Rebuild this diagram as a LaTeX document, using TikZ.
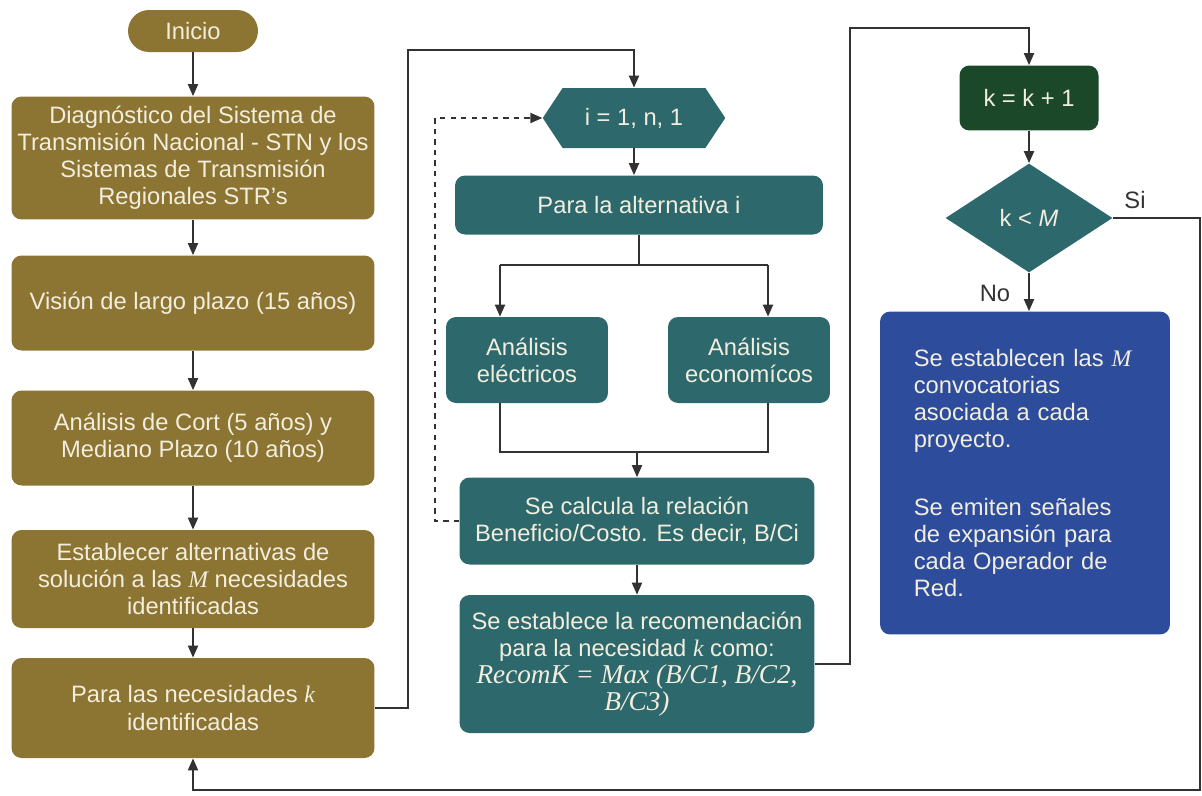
\documentclass[tikz,border=0pt]{standalone}
\usepackage{fontspec}
\setmainfont{Liberation Sans}
\newfontfamily\tmsfont{Liberation Serif}
\usepackage{tikz}
\usetikzlibrary{arrows.meta,positioning,shapes.geometric,shapes.symbols}
\definecolor{oro}{RGB}{140,116,50}
\definecolor{petroleo}{RGB}{45,104,108}
\definecolor{verdeosc}{RGB}{28,72,42}
\definecolor{azulrec}{RGB}{46,76,156}
\definecolor{crema}{RGB}{242,238,222}
\definecolor{grislinea}{RGB}{50,50,50}
\newcommand{\mvar}[1]{{\tmsfont\itshape #1}}
\tikzset{
  caja/.style={rectangle,rounded corners=0.2cm,inner sep=0pt,align=center,text=crema,font=\fontsize{13.5}{15.4}\selectfont},
  cajaoro/.style={caja,fill=oro,minimum width=7.26cm},
  cajapet/.style={caja,fill=petroleo},
  conector/.style={draw=grislinea,line width=1.1pt},
  flecha/.style={conector,-{Triangle[length=2.4mm,width=2mm]}},
  etiq/.style={text=grislinea,font=\fontsize{13.5}{15.4}\selectfont}
}

\begin{document}
\begin{tikzpicture}[x=0.02cm,y=-0.02cm]
\useasboundingbox (0,0) rectangle (1202,795);
\node[caja,fill=oro,rounded corners=0.42cm,minimum width=2.6cm,minimum height=0.84cm] (ini) at (193,31) {Inicio};
\node[cajaoro,minimum height=2.46cm] (diag) at (193,158) {Diagnóstico del Sistema de\\Transmisión Nacional - STN y los\\Sistemas de Transmisión\\Regionales STR's};
\node[cajaoro,minimum height=1.9cm] (vis) at (193,303) {Visión de largo plazo (15 años)};
\node[cajaoro,minimum height=1.9cm] (cort) at (193,438) {Análisis de Cort (5 años) y\\Mediano Plazo (10 años)};
\node[cajaoro,minimum height=1.96cm] (est) at (193,579) {Establecer alternativas de\\solución a las \mvar{M} necesidades\\identificadas};
\node[cajaoro,minimum height=2cm] (nec) at (193,708) {Para las necesidades \mvar{k}\\identificadas};

\node[caja,signal,signal to=west and east,signal pointer angle=113,fill=petroleo,rounded corners=0pt,minimum width=3.65cm,minimum height=1.2cm] (hex) at (634,118) {i = 1, n, 1};
\node[cajapet,minimum width=7.36cm,minimum height=1.18cm] (alt) at (639,205) {Para la alternativa i};
\node[cajapet,minimum width=3.24cm,minimum height=1.72cm] (ael) at (527,360) {Análisis\\eléctricos};
\node[cajapet,minimum width=3.24cm,minimum height=1.72cm] (aec) at (749,360) {Análisis\\economícos};
\node[cajapet,minimum width=7.1cm,minimum height=1.74cm] (calc) at (637,521) {Se calcula la relación\\Beneficio/Costo. Es decir, B/Ci};
\node[cajapet,minimum width=7.1cm,minimum height=2.76cm] (rec) at (637,664) {Se establece la recomendación\\para la necesidad \mvar{k} como:\\{\fontsize{15.5}{15.4}\selectfont\mvar{RecomK = Max (B/C1, B/C2,}}\\{\fontsize{15.5}{15.4}\selectfont\mvar{B/C3)}}};

\node[caja,fill=verdeosc,minimum width=2.78cm,minimum height=1.3cm] (kinc) at (1029,98) {k = k + 1};
\node[caja,diamond,fill=petroleo,rounded corners=0pt,minimum width=3.34cm,minimum height=2.18cm] (dec) at (1029,218) {k < \textit{M}};
\node[caja,fill=azulrec,minimum width=5.8cm,minimum height=6.46cm,text width=4.45cm,align=left] (fin) at (1025,473) {Se establecen las \mvar{M}\\convocatorias\\asociada a cada\\proyecto.\\[23pt]Se emiten señales\\de expansión para\\cada Operador de\\Red.};

\node[etiq] (si) at (1135,200) {Si};
\node[etiq] (no) at (995,293) {No};

\coordinate (c1) at (408,50);
\coordinate (c2) at (850,28);
\coordinate (c3) at (435,118);
\coordinate (c4) at (1200,790);
\coordinate (sp) at (639,265);
\coordinate (ea) at (500,265);
\coordinate (eb) at (768,265);
\coordinate (mg) at (637,452);

\draw[flecha] (ini) -- (diag);
\draw[flecha] (diag) -- (vis);
\draw[flecha] (vis) -- (cort);
\draw[flecha] (cort) -- (est);
\draw[flecha] (est) -- (nec);
\draw[flecha] (nec.east) -| (c1) -| (hex.north);
\draw[flecha] (hex.south) -- (hex.south |- alt.north);
\draw[conector] (alt.south) -- (sp);
\draw[conector] (ea) -- (eb);
\draw[flecha] (ea) -- (ea |- ael.north);
\draw[flecha] (eb) -- (eb |- aec.north);
\draw[conector] (ea |- ael.south) -- (ea |- mg) -- (eb |- mg) -- (eb |- aec.south);
\draw[flecha] (mg) -- (calc.north);
\draw[flecha,dashed] (calc.west) -| (c3) -- (hex.west);
\draw[flecha] (calc) -- (rec);
\draw[flecha] (rec.east) -| (c2) -| (kinc.north);
\draw[flecha] (kinc) -- (dec);
\draw[flecha] (dec.south) -- (dec.south |- fin.north);
\draw[flecha] (dec.east) -| (c4) -| (nec.south);
\end{tikzpicture}
\end{document}
